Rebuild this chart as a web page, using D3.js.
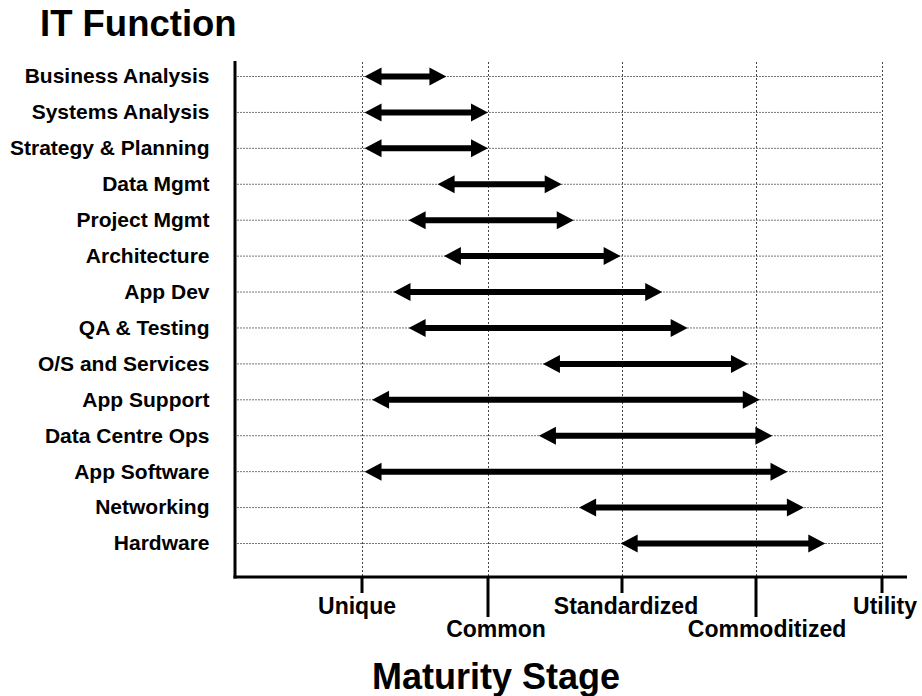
<!DOCTYPE html>
<html>
<head>
<meta charset="utf-8">
<script src="https://cdn.jsdelivr.net/npm/d3@7"></script>
<style>
  html, body { margin: 0; padding: 0; background: #fff; }
  svg { display: block; font-family: "Liberation Sans", Arial, sans-serif; }
</style>
</head>
<body>
<div id="chart"></div>
<script>
  // IT functions, top to bottom
  const functions = [
    'Business Analysis', 'Systems Analysis', 'Strategy & Planning', 'Data Mgmt',
    'Project Mgmt', 'Architecture', 'App Dev', 'QA & Testing', 'O/S and Services',
    'App Support', 'Data Centre Ops', 'App Software', 'Networking', 'Hardware'
  ];
  // maturity range of each function, in stage units (0 = Unique ... 4 = Utility)
  const rangeStart = [0.02, 0.02, 0.02, 0.6, 0.37, 0.65, 0.25, 0.37, 1.41, 0.08, 1.38, 0.02, 1.68, 1.99];
  const rangeEnd = [0.67, 1.0, 1.0, 1.55, 1.64, 1.99, 2.3, 2.49, 2.94, 3.03, 3.13, 3.25, 3.38, 3.55];
  const stages = ['Unique', 'Common', 'Standardized', 'Commoditized', 'Utility'];

  const W = 922, H = 696;
  const axisX = 235, axisY = 577;

  const svg = d3.select('#chart').append('svg')
    .attr('width', W)
    .attr('height', H);

  // stage positions are not quite evenly spaced in the original
  const x = d3.scaleLinear()
    .domain([0, 1, 2, 3, 4])
    .range([362, 488, 622, 756, 882]);

  const y = d3.scalePoint()
    .domain(functions)
    .range([76, 543]);

  // horizontal grid
  svg.append('g')
    .selectAll('line')
    .data(functions)
    .join('line')
    .attr('x1', axisX + 2)
    .attr('x2', x(4))
    .attr('y1', d => y(d) + 0.5)
    .attr('y2', d => y(d) + 0.5)
    .attr('stroke', '#777')
    .attr('stroke-width', 1)
    .attr('stroke-dasharray', '2,1');

  // vertical grid
  svg.append('g')
    .selectAll('line')
    .data(stages)
    .join('line')
    .attr('x1', (d, i) => Math.round(x(i)) + 0.5)
    .attr('x2', (d, i) => Math.round(x(i)) + 0.5)
    .attr('y1', 62)
    .attr('y2', axisY)
    .attr('stroke', '#444')
    .attr('stroke-width', 1)
    .attr('stroke-dasharray', '2,2');

  // double-headed arrows
  const headLen = 17, headHalf = 9, shaft = 3;
  function arrowPath(x1, x2, cy) {
    const p = d3.path();
    p.moveTo(x1, cy);
    p.lineTo(x1 + headLen, cy - headHalf);
    p.lineTo(x1 + headLen, cy - shaft);
    p.lineTo(x2 - headLen, cy - shaft);
    p.lineTo(x2 - headLen, cy - headHalf);
    p.lineTo(x2, cy);
    p.lineTo(x2 - headLen, cy + headHalf);
    p.lineTo(x2 - headLen, cy + shaft);
    p.lineTo(x1 + headLen, cy + shaft);
    p.lineTo(x1 + headLen, cy + headHalf);
    p.closePath();
    return p.toString();
  }

  svg.append('g')
    .selectAll('path')
    .data(functions)
    .join('path')
    .attr('d', (d, i) => arrowPath(x(rangeStart[i]), x(rangeEnd[i]), y(d) + 0.5))
    .attr('fill', '#000');

  // row labels
  svg.append('g')
    .selectAll('text')
    .data(functions)
    .join('text')
    .attr('x', 209.5)
    .attr('y', d => y(d))
    .attr('dy', '0.35em')
    .attr('text-anchor', 'end')
    .attr('font-size', 21)
    .attr('font-weight', 'bold')
    .text(d => d);

  // axes
  svg.append('line')
    .attr('x1', axisX).attr('x2', axisX)
    .attr('y1', 61).attr('y2', axisY + 1.5)
    .attr('stroke', '#000').attr('stroke-width', 3);

  svg.append('line')
    .attr('x1', axisX - 1.5).attr('x2', 907)
    .attr('y1', axisY).attr('y2', axisY)
    .attr('stroke', '#000').attr('stroke-width', 3);

  // stage ticks, alternating short / long; labels sit a little off-centre like the original
  const labelShift = [-5, 8, 4, 11, 3];
  const ticks = svg.append('g')
    .selectAll('g')
    .data(stages)
    .join('g')
    .attr('transform', (d, i) => `translate(${x(i)},${axisY})`);

  ticks.append('line')
    .attr('y1', 0)
    .attr('y2', (d, i) => i % 2 ? 40 : 16)
    .attr('stroke', '#000')
    .attr('stroke-width', 3);

  ticks.append('text')
    .attr('x', (d, i) => labelShift[i])
    .attr('y', (d, i) => i % 2 ? 60 : 37)
    .attr('text-anchor', 'middle')
    .attr('font-size', 23)
    .attr('font-weight', 'bold')
    .text(d => d);

  // titles
  svg.append('text')
    .attr('x', 40)
    .attr('y', 36)
    .attr('font-size', 36.5)
    .attr('font-weight', 'bold')
    .text('IT Function');

  svg.append('text')
    .attr('x', 496)
    .attr('y', 689)
    .attr('text-anchor', 'middle')
    .attr('font-size', 36)
    .attr('font-weight', 'bold')
    .text('Maturity Stage');
</script>
</body>
</html>
